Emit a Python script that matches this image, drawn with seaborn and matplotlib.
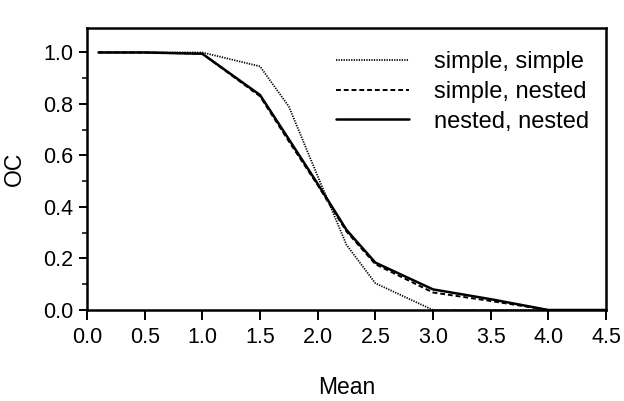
import matplotlib
matplotlib.use("Agg")
import matplotlib.pyplot as plt
import seaborn as sns
import pandas as pd
from matplotlib.ticker import MultipleLocator

mean_vals = [0.1, 0.5, 1.0, 1.5, 1.75, 2.0, 2.25, 2.5, 3.0, 3.5, 4.0, 4.5]
simple_simple = [1.0, 1.0, 1.0, 0.946, 0.79, 0.52, 0.253, 0.104, 0.0, 0.0, 0.0, 0.0]
simple_nested = [1.0, 1.0, 0.995, 0.83, 0.655, 0.485, 0.305, 0.178, 0.068, 0.035, 0.0, 0.0]
nested_nested = [1.0, 1.0, 0.995, 0.835, 0.663, 0.49, 0.311, 0.184, 0.08, 0.042, 0.0, 0.0]
series_names = ["simple, simple", "simple, nested", "nested, nested"]
x_ticks = [0.0, 0.5, 1.0, 1.5, 2.0, 2.5, 3.0, 3.5, 4.0, 4.5]
y_ticks = [0.0, 0.2, 0.4, 0.6, 0.8, 1.0]

rows = []
for name, vals in zip(series_names, [simple_simple, simple_nested, nested_nested]):
    for x, y in zip(mean_vals, vals):
        rows.append({"Mean": x, "OC": y, "series": name})
df = pd.DataFrame(rows)

sns.set_style("ticks")
plt.rcParams["font.family"] = ["Liberation Sans", "DejaVu Sans"]
plt.rcParams["text.color"] = "black"
plt.rcParams["axes.labelcolor"] = "black"

fig = plt.figure(figsize=(6.24, 4.01), dpi=100)
# axes: left 87px, right 606px, bottom (y=0) at 310px, top at 28px
ax = fig.add_axes([87 / 624, 1 - 310 / 401, (606 - 87) / 624, (310 - 28) / 401])

sns.lineplot(data=df, x="Mean", y="OC", hue="series", style="series",
             palette=["black", "black", "black"],
             dashes={"simple, simple": (0.7, 0.7), "simple, nested": (2.5, 1.5), "nested, nested": ""},
             hue_order=series_names, style_order=series_names,
             ax=ax, legend=True)
lws = [1.3, 1.4, 1.8]
for line, lw in zip(ax.lines[:3], lws):
    line.set_linewidth(lw)

ax.set_xlim(0, 4.5)
ax.set_ylim(0, 1.095)
ax.yaxis.set_minor_locator(MultipleLocator(0.1))
ax.set_xticks(x_ticks)
ax.set_xticklabels([f"{v:.1f}" for v in x_ticks])
ax.set_yticks(y_ticks)
ax.set_yticklabels([f"{v:.1f}" for v in y_ticks])
ax.tick_params(axis="x", which="major", direction="out", length=7, width=1.4,
               labelsize=15.5, colors="black", pad=5)
ax.tick_params(axis="y", which="major", direction="out", length=6, width=1.4,
               labelsize=15.5, colors="black", pad=4)
ax.tick_params(axis="y", which="minor", direction="out", length=3.5, width=1.1, colors="black")
for s in ax.spines.values():
    s.set_linewidth(1.8)
    s.set_color("black")
    s.set_visible(True)

ax.set_xlabel("Mean", fontsize=16.5, color="black")
ax.set_ylabel("OC", fontsize=16.5, color="black")
ax.xaxis.set_label_coords(0.5, (310 - 388) / 282)
ax.xaxis.label.set_verticalalignment("center")
ax.yaxis.set_label_coords((14 - 87) / 519, 0.5)
ax.yaxis.label.set_verticalalignment("center")

handles, labels = ax.get_legend_handles_labels()
for h, lw in zip(handles, lws):
    h.set_linewidth(lw)
leg = ax.legend(handles, labels, loc="upper left", bbox_to_anchor=((336 - 87) / 519, (310 - 51) / 282),
                frameon=False, borderpad=0, borderaxespad=0,
                fontsize=17, handlelength=3.1, handletextpad=1.05, labelspacing=0.33)
for t in leg.get_texts():
    t.set_color("black")

fig.savefig("out.png", dpi=100)
